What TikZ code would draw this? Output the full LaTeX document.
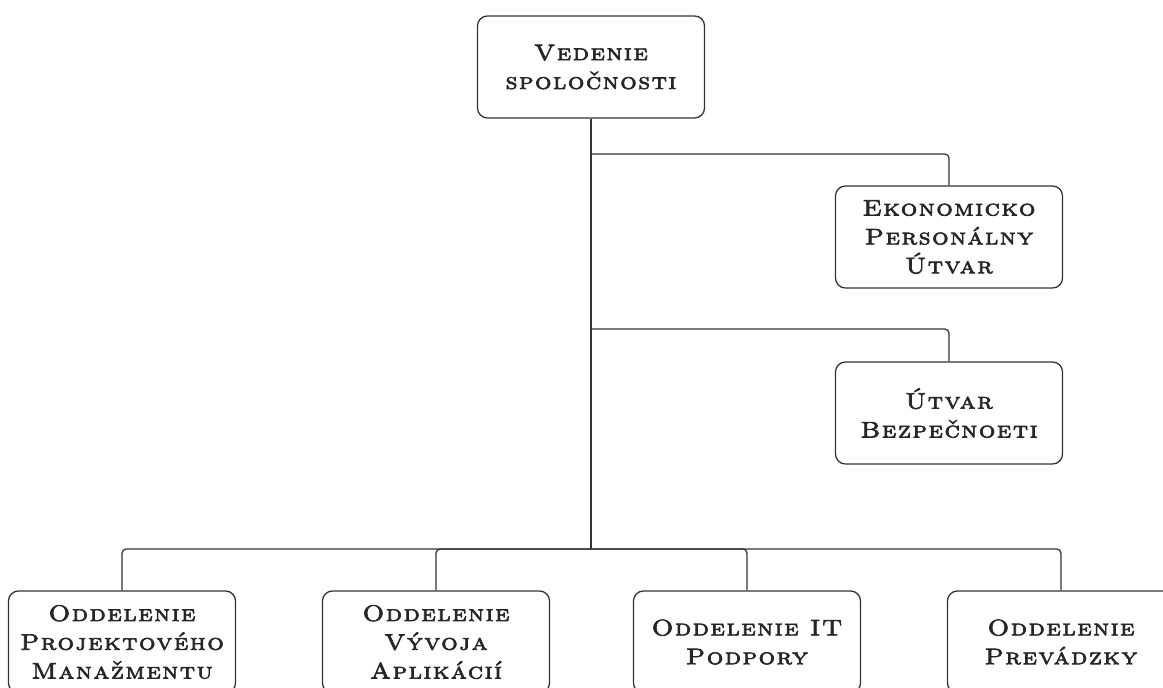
\documentclass[tikz,border=0pt]{standalone}
\usepackage{fontspec}
\usepackage{tikz}
\usetikzlibrary{positioning}
\newfontfamily\orgfont{lmromancaps10-regular.otf}[LetterSpace=7,FakeBold=3,FakeStretch=1.15]

\begin{document}
\begin{tikzpicture}[x=0.025cm,y=-0.025cm,
                    unit node/.style={rectangle,rounded corners=0.25cm,draw=black!80,line width=0.9pt,fill=white,
                      minimum width=5.675cm,minimum height=2.55cm,align=center,
                      font=\orgfont\fontsize{16}{20.5}\selectfont,text=black!85},
                    link/.style={draw=black!80,line width=0.9pt,rounded corners=3pt}]
 \useasboundingbox (0,0) rectangle (1163,688);
 \clip (0,0) rectangle (1163,688);

%Top of the tree
 \node[unit node] (vedenie) at (591,67) {Vedenie\\spoločnosti};

%Staff units on the right
 \node[unit node] (ekonom) at (949,237) {Ekonomicko\\Personálny\\Útvar};
 \node[unit node] (bezpec) at (949,413) {Útvar\\Bezpečnoeti};

%Departments at the bottom
 \foreach \n/\x/\t in {odd1/122/{Oddelenie\\Projektového\\Manažmentu},
                       odd2/436/{Oddelenie\\Vývoja\\Aplikácií},
                       odd3/747/{Oddelenie IT\\Podpory},
                       odd4/1061/{Oddelenie\\Prevádzky}}
    \node[unit node] (\n) at (\x,642) {\t};

%Junctions on the trunk
 \coordinate (split1) at (591,154);
 \coordinate (split2) at (591,329);
 \coordinate (bus) at (591,549);

%Lines
 \draw[link] (vedenie.south) -- (bus);
 \draw[link] (split1) -| (ekonom.north);
 \draw[link] (split2) -| (bezpec.north);
 \foreach \n in {odd1,odd2,odd3,odd4}
    \draw[link] (bus) -| (\n.north);
\end{tikzpicture}
\end{document}
